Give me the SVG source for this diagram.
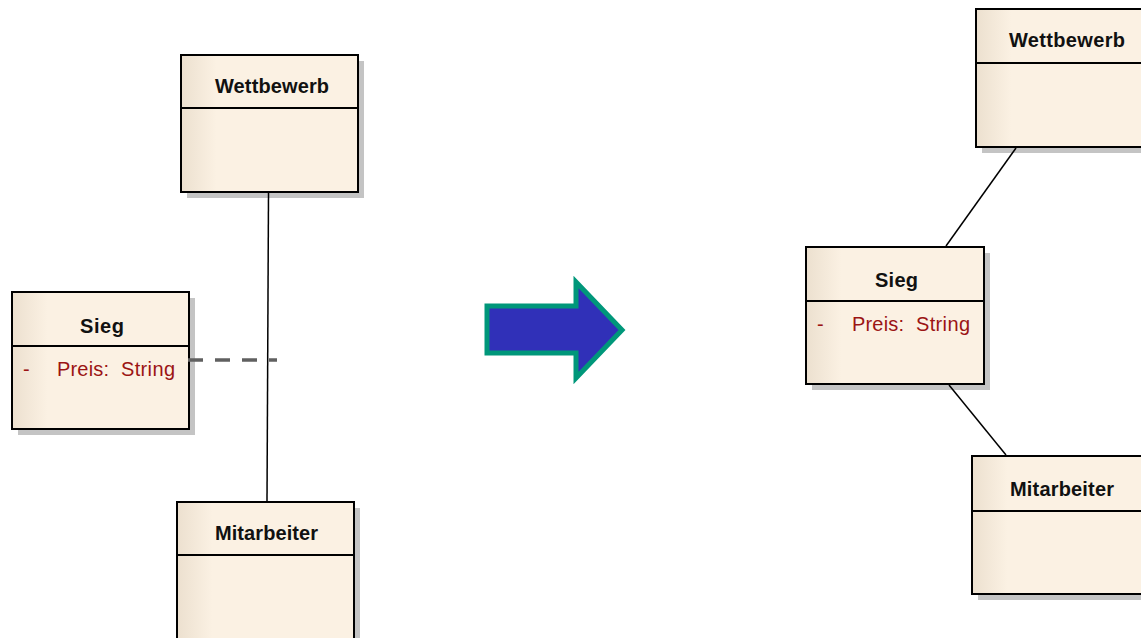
<svg xmlns="http://www.w3.org/2000/svg" width="1141" height="638" viewBox="0 0 1141 638">
  <style>
    .shadow { fill: #c4c4c4; }
    .box { fill: url(#classFill); stroke: #000; stroke-width: 2; }
    .div { stroke: #000; stroke-width: 2; }
    .name { font-family: "Liberation Sans", Arial, sans-serif; font-weight: bold; font-size: 20px; fill: #111; }
    .attr { font-family: "Liberation Sans", Arial, sans-serif; font-size: 20px; fill: #9b1414; }
    .assoc { stroke: #000; stroke-width: 1.5; fill: none; }
    .assocClass { stroke: #606060; stroke-width: 3.5; stroke-dasharray: 15 12; fill: none; }
  </style>
  <defs>
    <linearGradient id="classFill" x1="0" y1="0" x2="1" y2="0">
      <stop offset="0" stop-color="#ece0cf"/>
      <stop offset="0.2" stop-color="#fbf1e3"/>
      <stop offset="1" stop-color="#fbf1e3"/>
    </linearGradient>
  </defs>
  <rect width="1141" height="638" fill="#fff"/>

  <!-- left side: association class -->
  <g id="wettbewerb-left">
    <rect class="shadow" x="187" y="61" width="177" height="137"/>
    <rect class="box" x="181" y="55" width="177" height="137"/>
    <line class="div" x1="181" y1="108" x2="358" y2="108"/>
    <text class="name" x="215" y="92.5" textLength="114" lengthAdjust="spacing">Wettbewerb</text>
  </g>

  <g id="sieg-left">
    <rect class="shadow" x="18" y="298" width="177" height="137"/>
    <rect class="box" x="12" y="292" width="177" height="137"/>
    <line class="div" x1="12" y1="346" x2="189" y2="346"/>
    <text class="name" x="80" y="333" textLength="44" lengthAdjust="spacing">Sieg</text>
    <text class="attr" x="23" y="376">-</text>
    <text class="attr" x="57" y="376" textLength="52" lengthAdjust="spacing">Preis:</text>
    <text class="attr" x="121" y="376" textLength="54" lengthAdjust="spacing">String</text>
  </g>

  <g id="mitarbeiter-left">
    <rect class="shadow" x="183" y="508" width="177" height="137"/>
    <rect class="box" x="177" y="502" width="177" height="137"/>
    <line class="div" x1="177" y1="555" x2="354" y2="555"/>
    <text class="name" x="215" y="540" textLength="103" lengthAdjust="spacing">Mitarbeiter</text>
  </g>

  <!-- transformation arrow -->
  <g id="arrow">
    <polygon points="487,306 576,306 576,282 622,330 576,378 576,353 487,353" fill="#3030b8" stroke="#00977a" stroke-width="5" stroke-linejoin="miter"/>
  </g>

  <!-- right side: resolved into plain associations -->
  <g id="wettbewerb-right">
    <rect class="shadow" x="982" y="15" width="177" height="138"/>
    <rect class="box" x="976" y="9" width="177" height="138"/>
    <line class="div" x1="976" y1="63" x2="1153" y2="63"/>
    <text class="name" x="1009" y="47" textLength="116" lengthAdjust="spacing">Wettbewerb</text>
  </g>

  <g id="sieg-right">
    <rect class="shadow" x="812" y="253" width="178" height="137"/>
    <rect class="box" x="806" y="247" width="178" height="137"/>
    <line class="div" x1="806" y1="301" x2="984" y2="301"/>
    <text class="name" x="875" y="286.5" textLength="43" lengthAdjust="spacing">Sieg</text>
    <text class="attr" x="817" y="331">-</text>
    <text class="attr" x="852" y="331" textLength="52" lengthAdjust="spacing">Preis:</text>
    <text class="attr" x="916" y="331" textLength="54" lengthAdjust="spacing">String</text>
  </g>

  <g id="mitarbeiter-right">
    <rect class="shadow" x="978" y="462" width="177" height="138"/>
    <rect class="box" x="972" y="456" width="177" height="138"/>
    <line class="div" x1="972" y1="511" x2="1149" y2="511"/>
    <text class="name" x="1010" y="495.5" textLength="104" lengthAdjust="spacing">Mitarbeiter</text>
  </g>

  <!-- connectors, drawn over the node shadows -->
  <g id="connectors">
    <line class="assoc" x1="268.5" y1="193" x2="267" y2="501"/>
    <line class="assocClass" x1="188" y1="360" x2="277" y2="360"/>
    <line class="assoc" x1="1016" y1="148" x2="946" y2="246"/>
    <line class="assoc" x1="949" y1="385" x2="1006" y2="455"/>
  </g>
</svg>
